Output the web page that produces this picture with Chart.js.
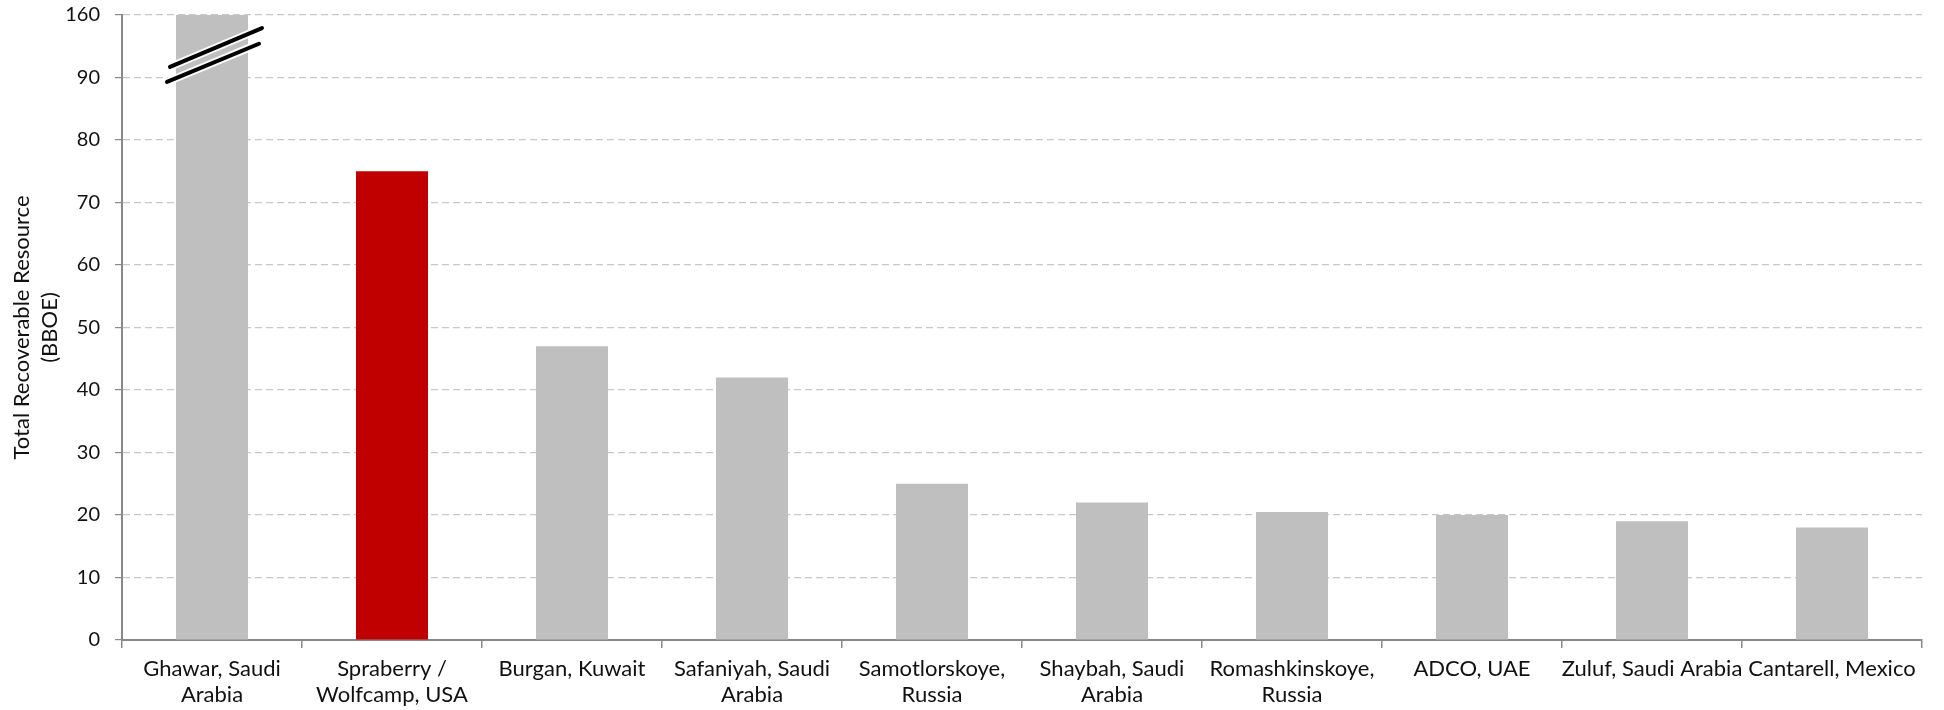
<!DOCTYPE html>
<html>
<head>
<meta charset="utf-8">
<script src="https://cdn.jsdelivr.net/npm/chart.js@4.4.1/dist/chart.umd.min.js"></script>
<style>
  html, body { margin: 0; padding: 0; background: #fff; }
  #wrap { width: 1944px; height: 710px; }
</style>
</head>
<body>
<div id="wrap"><canvas id="chart"></canvas></div>
<script>
// ── Data ─────────────────────────────────────────────────────────────────────
const fields = [
  ['Ghawar, Saudi', 'Arabia'],
  ['Spraberry /', 'Wolfcamp, USA'],
  ['Burgan, Kuwait'],
  ['Safaniyah, Saudi', 'Arabia'],
  ['Samotlorskoye,', 'Russia'],
  ['Shaybah, Saudi', 'Arabia'],
  ['Romashkinskoye,', 'Russia'],
  ['ADCO, UAE'],
  ['Zuluf, Saudi Arabia'],
  ['Cantarell, Mexico'],
];
const resourceBBOE = [160, 75, 47, 42, 25, 22, 20.5, 20, 19, 18];
const highlight    = [false, true, false, false, false, false, false, false, false, false];

// axis is broken above 90: the last step (90 -> 100 on the scale) stands for 160
const BREAK_FROM = 90;
const BREAK_TOP  = 100;
const BREAK_LABEL = '160';
const plotted = resourceBBOE.map(v => v > BREAK_FROM ? BREAK_TOP : v);

const GREY = '#bfbfbf';
const RED  = '#c00000';
const FONT = "Lato, 'Open Sans', sans-serif";

// ── Axis-break marks over the first bar ──────────────────────────────────────
const breakMarks = {
  id: 'breakMarks',
  afterDatasetsDraw(chart) {
    const { ctx, scales: { x, y } } = chart;
    const cx = x.getPixelForValue(0);
    const lines = [
      [cx - 42, y.getPixelForValue(91.7), cx + 50, y.getPixelForValue(97.9)],
      [cx - 45, y.getPixelForValue(89.3), cx + 47, y.getPixelForValue(95.4)],
    ];
    ctx.save();
    ctx.lineCap = 'round';
    lines.forEach(([x1, y1, x2, y2]) => {
      ctx.strokeStyle = 'rgba(255,255,255,0.9)';
      ctx.lineWidth = 8;
      ctx.beginPath(); ctx.moveTo(x1, y1); ctx.lineTo(x2, y2); ctx.stroke();
    });
    lines.forEach(([x1, y1, x2, y2]) => {
      ctx.strokeStyle = '#000';
      ctx.lineWidth = 4;
      ctx.beginPath(); ctx.moveTo(x1, y1); ctx.lineTo(x2, y2); ctx.stroke();
    });
    ctx.restore();
  },
};

new Chart(document.getElementById('chart'), {
  type: 'bar',
  data: {
    labels: fields,
    datasets: [{
      label: 'Total Recoverable Resource (BBOE)',
      data: plotted,
      backgroundColor: highlight.map(h => h ? RED : GREY),
      borderWidth: 0,
      barPercentage: 0.4,
      categoryPercentage: 1.0,
    }],
  },
  options: {
    responsive: true,
    maintainAspectRatio: false,
    animation: false,
    layout: { padding: { top: 15, right: 22, left: 0, bottom: 0 } },
    plugins: {
      legend: { display: false },
      tooltip: { enabled: false },
    },
    scales: {
      x: {
        grid: {
          display: true,
          drawOnChartArea: false,
          offset: true,
          color: '#898989',
          lineWidth: 1.5,
          tickLength: 8,
        },
        border: { color: '#898989', width: 2 },
        ticks: {
          color: '#111',
          font: { family: FONT, size: 22, lineHeight: 1.18 },
          padding: 8,
          maxRotation: 0,
          autoSkip: false,
        },
        afterFit: s => { s.height = 70; },
      },
      y: {
        min: 0,
        max: BREAK_TOP,
        ticks: {
          stepSize: 10,
          color: '#111',
          font: { family: FONT, size: 20 },
          padding: 15,
          callback: v => v === BREAK_TOP ? BREAK_LABEL : v,
        },
        grid: {
          color: '#c8c8c8',
          lineWidth: 1.2,
          tickColor: '#898989',
          tickLength: 7,
          tickBorderDash: [],
        },
        border: { color: '#898989', width: 2, dash: [7, 4], dashOffset: 0 },
        title: {
          display: true,
          text: ['Total Recoverable Resource', '(BBOE)'],
          color: '#111',
          font: { family: FONT, size: 22, lineHeight: 1.27 },
          padding: { top: 8, bottom: 0 },
        },
        afterFit: s => {
          s.width = 122;
          s.paddingTop = 0;
          s.paddingBottom = 0;
        },
      },
    },
  },
  plugins: [breakMarks],
});
</script>
</body>
</html>
